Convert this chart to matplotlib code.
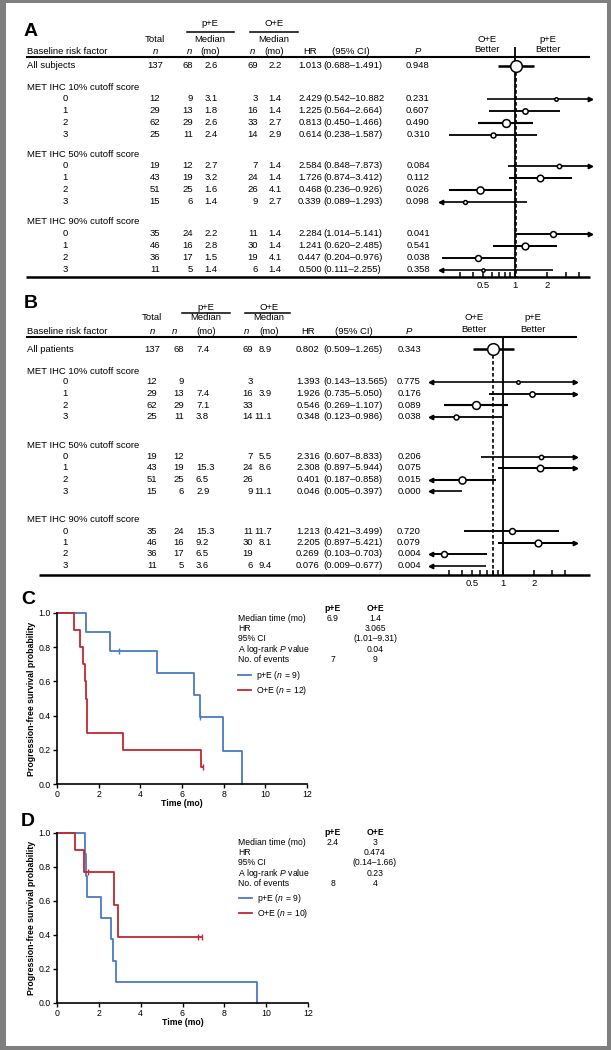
import matplotlib
matplotlib.use('Agg')
import numpy as np
import matplotlib.pyplot as plt
from matplotlib.patches import Rectangle
from matplotlib.ticker import FixedLocator, FixedFormatter, NullFormatter

plt.rcParams['font.family'] = ['Liberation Sans', 'DejaVu Sans']
plt.rcParams['mathtext.fontset'] = 'custom'
plt.rcParams['mathtext.rm'] = 'Liberation Sans'
plt.rcParams['mathtext.it'] = 'Liberation Sans:italic'
plt.rcParams['mathtext.bf'] = 'Liberation Sans:bold'

W, H = 611, 1050

# ---------------- data ----------------
groups = ['MET IHC 10% cutoff score', 'MET IHC 50% cutoff score', 'MET IHC 90% cutoff score']
scores = ['0', '1', '2', '3']
total_n = [12, 29, 62, 25, 19, 43, 51, 15, 35, 46, 36, 11]
pe_n = [9, 13, 29, 11, 12, 19, 25, 6, 24, 16, 17, 5]
oe_n = [3, 16, 33, 14, 7, 24, 26, 9, 11, 30, 19, 6]

# panel A (progression-free survival)
a_all = ['All subjects', 137, 68, '2.6', 69, '2.2', 1.013, 0.688, 1.491, '0.948']
a_pe_med = ['3.1', '1.8', '2.6', '2.4', '2.7', '3.2', '1.6', '1.4', '2.2', '2.8', '1.5', '1.4']
a_oe_med = ['1.4', '1.4', '2.7', '2.9', '1.4', '1.4', '4.1', '2.7', '1.4', '1.4', '4.1', '1.4']
a_hr = [2.429, 1.225, 0.813, 0.614, 2.584, 1.726, 0.468, 0.339, 2.284, 1.241, 0.447, 0.500]
a_lo = [0.542, 0.564, 0.450, 0.238, 0.848, 0.874, 0.236, 0.089, 1.014, 0.620, 0.204, 0.111]
a_hi = [10.882, 2.664, 1.466, 1.587, 7.873, 3.412, 0.926, 1.293, 5.141, 2.485, 0.976, 2.255]
a_p = ['0.231', '0.607', '0.490', '0.310', '0.084', '0.112', '0.026', '0.098',
       '0.041', '0.541', '0.038', '0.358']

# panel B (overall survival)
b_all = ['All patients', 137, 68, '7.4', 69, '8.9', 0.802, 0.509, 1.265, '0.343']
b_pe_med = ['', '7.4', '7.1', '3.8', '', '15.3', '6.5', '2.9', '15.3', '9.2', '6.5', '3.6']
b_oe_med = ['', '3.9', '', '11.1', '5.5', '8.6', '', '11.1', '11.7', '8.1', '', '9.4']
b_hr = [1.393, 1.926, 0.546, 0.348, 2.316, 2.308, 0.401, 0.046, 1.213, 2.205, 0.269, 0.076]
b_lo = [0.143, 0.735, 0.269, 0.123, 0.607, 0.897, 0.187, 0.005, 0.421, 0.897, 0.103, 0.009]
b_hi = [13.565, 5.050, 1.107, 0.986, 8.833, 5.944, 0.858, 0.397, 3.499, 5.421, 0.703, 0.677]
b_p = ['0.775', '0.176', '0.089', '0.038', '0.206', '0.075', '0.015', '0.000',
       '0.720', '0.079', '0.004', '0.004']

# KM curves, panel C
c_pe_t = [0, 1.4, 2.55, 4.8, 6.57, 6.84, 7.95, 8.9]
c_pe_s = [1.0, 0.889, 0.778, 0.648, 0.519, 0.389, 0.195, 0.0]
c_pe_end = 8.9
c_pe_cens_t = [2.97, 6.84]
c_pe_cens_s = [0.778, 0.389]
c_oe_t = [0, 0.8, 1.1, 1.27, 1.32, 1.37, 1.42, 3.17, 6.92]
c_oe_s = [1.0, 0.9, 0.8, 0.7, 0.6, 0.5, 0.3, 0.2, 0.1]
c_oe_end = 7.0
c_oe_cens_t = [7.0]
c_oe_cens_s = [0.1]
c_pe_vals = ['6.9', '', '', '', '7']
c_oe_vals = ['1.4', '3.065', '(1.01–9.31)', '0.04', '9']
c_legend = ['p+E ($\\it{n}$ = 9)', 'O+E ($\\it{n}$ = 12)']

# KM curves, panel D
d_pe_t = [0, 1.32, 1.37, 1.43, 2.11, 2.59, 2.70, 2.83, 9.54]
d_pe_s = [1.0, 0.875, 0.75, 0.625, 0.5, 0.375, 0.25, 0.125, 0.0]
d_pe_end = 9.54
d_pe_cens_t = []
d_pe_cens_s = []
d_oe_t = [0, 0.87, 1.27, 2.73, 2.94]
d_oe_s = [1.0, 0.9, 0.771, 0.578, 0.386]
d_oe_end = 6.92
d_oe_cens_t = [1.46, 6.76, 6.92]
d_oe_cens_s = [0.771, 0.386, 0.386]
d_pe_vals = ['2.4', '', '', '', '8']
d_oe_vals = ['3', '0.474', '(0.14–1.66)', '0.23', '4']
d_legend = ['p+E ($\\it{n}$ = 9)', 'O+E ($\\it{n}$ = 10)']

km_labels = ['Median time (mo)', 'HR', '95% CI', 'A log-rank $\\it{P}$ value', 'No. of events']

BLUE = '#4a7bc4'
RED = '#c3262f'
FS = 6.8

# ---------------- figure ----------------
fig = plt.figure(figsize=(W / 100, H / 100), dpi=100)
fig.patch.set_facecolor('#7f7f7f')
ax0 = fig.add_axes([0, 0, 1, 1])
ax0.set_xlim(0, W)
ax0.set_ylim(H, 0)
ax0.axis('off')
ax0.add_patch(Rectangle((6, 3), 601, 1043, facecolor='white', edgecolor='none'))


def px_axes(x0, x1, y0, y1):
    return fig.add_axes([x0 / W, 1 - y1 / H, (x1 - x0) / W, (y1 - y0) / H])


def row_layout(y_all, gap_first, gap_head, step, gap_group):
    heads, rows = [], []
    y = y_all + gap_first
    for g in range(len(groups)):
        heads.append(y)
        y += gap_head
        for i in range(len(scores)):
            rows.append(y)
            y += step
        y += gap_group - step
    return heads, rows


def txt(x, y, s, ha='center', **kw):
    return ax0.text(x, y, s, ha=ha, va='center', fontsize=kw.pop('fontsize', FS), **kw)


def table(allrow, pe_med, oe_med, hr, lo, hi, pv, c, hy, y_all, heads, rows, lines):
    # header
    txt(c['pe_hdr'], hy[0], 'p+E')
    txt(c['oe_hdr'], hy[0], 'O+E')
    ax0.plot(c['pe_line'], [hy[1]] * 2, color='k', lw=1.1)
    ax0.plot(c['oe_line'], [hy[1]] * 2, color='k', lw=1.1)
    txt(c['total'][0], hy[2], 'Total')
    txt(c['pe_hdr'], hy[2], 'Median')
    txt(c['oe_hdr'], hy[2], 'Median')
    txt(c['label'], hy[3], 'Baseline risk factor', ha='left')
    txt(c['total'][0], hy[3], 'n', style='italic')
    txt(c['n_hdr'][0], hy[3], 'n', style='italic')
    txt(c['pe_hdr'], hy[3], '(mo)')
    txt(c['n_hdr'][1], hy[3], 'n', style='italic')
    txt(c['oe_hdr'], hy[3], '(mo)')
    txt(c['hr'][0], hy[3], 'HR')
    txt(c['ci_hdr'], hy[3], '(95% CI)')
    txt(c['p'][0], hy[3], 'P', style='italic')
    txt(c['better'][0], hy[2] - 1, 'O+E')
    txt(c['better'][0], hy[3] - 1, 'Better')
    txt(c['better'][1], hy[2] - 1, 'p+E')
    txt(c['better'][1], hy[3] - 1, 'Better')
    ax0.plot(lines[0], [lines[1]] * 2, color='k', lw=1.5, solid_capstyle='butt')
    ax0.plot(lines[2], [lines[3]] * 2, color='k', lw=1.8, solid_capstyle='butt')

    def one_row(y, vals):
        out = []
        for key, v in zip(['total', 'pe_n', 'pe_med', 'oe_n', 'oe_med', 'hr', 'ci', 'p'], vals):
            out.append(txt(c[key][0], y, v, ha=c[key][1]))
        return out

    lab, tot, pn, pm, on, om, h, l, u, p = allrow
    txt(c['label'], y_all, lab, ha='left')
    one_row(y_all, [str(tot), str(pn), pm, str(on), om, f'{h:.3f}', f'({l:.3f}–{u:.3f})', p])
    for g, gy in enumerate(heads):
        txt(c['label'], gy, groups[g], ha='left')
    ci_artists = []
    for i, y in enumerate(rows):
        txt(c['score'], y, scores[i % 4])
        arts = one_row(y, [str(total_n[i]), str(pe_n[i]), pe_med[i], str(oe_n[i]), oe_med[i],
                           f'{hr[i]:.3f}', f'({lo[i]:.3f}–{hi[i]:.3f})', pv[i]])
        ci_artists.append(arts[6])
    return ci_artists


def forest(ax, hr, lo, hi, ns, ys, all_hr, vline, dline, xmin=0.2, xmax=5.0):
    ax.set_xscale('log')
    ax.set_xlim(xmin, xmax)
    for h, l, u, n, y in zip(hr, lo, hi, ns, ys):
        lw = 0.9 + 0.08 * np.sqrt(n)
        ax.plot([max(l, xmin), min(u, xmax)], [y, y], color='k', lw=lw,
                solid_capstyle='butt', clip_on=False)
        if l < xmin:
            ax.plot(xmin, y, marker='<', ms=3.2, color='k', clip_on=False)
        if u > xmax:
            ax.plot(xmax, y, marker='>', ms=3.2, color='k', clip_on=False)
        if xmin <= h <= xmax:
            ax.plot(h, y, 'o', ms=8.4 * np.sqrt(n / 137), mfc='white', mec='k',
                    mew=1.1, zorder=4, clip_on=False)
    ax.vlines(1, vline[0], vline[1], color='k', lw=1.3, zorder=2)
    ax.vlines(all_hr, dline[0], dline[1], color='k', lw=1.2,
              linestyles=(0, (2.2, 1.4)), zorder=2)
    for s in ax.spines.values():
        s.set_visible(False)
    ax.patch.set_alpha(0)
    ax.xaxis.set_major_locator(FixedLocator([0.5, 1, 2]))
    ax.xaxis.set_major_formatter(FixedFormatter(['0.5', '1', '2']))
    ax.xaxis.set_minor_locator(FixedLocator([0.3, 0.4, 0.6, 0.7, 0.8, 0.9, 3, 4]))
    ax.xaxis.set_minor_formatter(NullFormatter())
    ax.tick_params(which='both', axis='x', direction='in', length=3.6, width=1.1,
                   labelsize=FS, pad=3)
    ax.tick_params(axis='y', left=False, labelleft=False)


# ---------------- panel A ----------------
colA = dict(label=27, score=65, total=(155, 'center'), pe_n=(193, 'right'),
            pe_med=(211, 'center'), oe_n=(258, 'right'), oe_med=(275, 'center'),
            hr=(310, 'center'), ci=(323, 'left'), p=(418, 'center'),
            pe_hdr=210, oe_hdr=274, pe_line=[187, 234], oe_line=[250, 298],
            n_hdr=(189, 252), ci_hdr=351, better=(487, 548))
headsA, rowsA = row_layout(66, 21, 11.5, 12, 20)
txt(31, 32, 'A', fontsize=14, fontweight='bold')
ciA = table(a_all, a_pe_med, a_oe_med, a_hr, a_lo, a_hi, a_p, colA,
            [24, 32, 40, 51], 66, headsA, rowsA, ([26, 590], 56.5, [26, 590], 277))
# the closing parenthesis of the first CI is cut off in the source figure
ciA[0].set_text(ciA[0].get_text()[:-1])
axA = px_axes(441, 589.5, 40, 277)
axA.set_ylim(277, 40)
forest(axA, [a_all[6]] + a_hr, [a_all[7]] + a_lo, [a_all[8]] + a_hi,
       [a_all[1]] + total_n, [66] + rowsA, a_all[6], (47, 277), (60, 277))

# ---------------- panel B ----------------
colB = dict(label=27, score=65, total=(152, 'center'), pe_n=(184, 'right'),
            pe_med=(196, 'left'), oe_n=(253, 'right'), oe_med=(272, 'right'),
            hr=(308, 'center'), ci=(323, 'left'), p=(409, 'center'),
            pe_hdr=206, oe_hdr=269, pe_line=[182, 230], oe_line=[245, 290],
            n_hdr=(174, 246), ci_hdr=354, better=(474, 533))
headsB, rowsB = row_layout(349, 22, 11, 11.5, 29)
txt(31, 303, 'B', fontsize=14, fontweight='bold')
table(b_all, b_pe_med, b_oe_med, b_hr, b_lo, b_hi, b_p, colB,
      [307, 313, 318, 331], 349, headsB, rowsB, ([26, 577], 337, [39, 590], 575))
axB = px_axes(431, 575, 320, 575)
axB.set_ylim(575, 320)
forest(axB, [b_all[6]] + b_hr, [b_all[7]] + b_lo, [b_all[8]] + b_hi,
       [b_all[1]] + total_n, [349] + rowsB, b_all[6], (337, 575), (343, 575))


# ---------------- KM panels ----------------
def km_panel(box, letter_pos, letter, curves, pe_vals, oe_vals, info_y, leg_anchor):
    ax = px_axes(*box)
    ax.patch.set_alpha(0)
    for t, s, t_end, ct, cs, col, lab in curves:
        tt = list(t) + [t_end]
        ss = list(s) + [s[-1]]
        ax.step(tt, ss, where='post', color=col, lw=1.3, clip_on=False, label=lab)
        ax.plot(ct, cs, ls='none', marker='|', ms=4, mew=1.0, color=col, clip_on=False)
    ax.set_xlim(0, 12)
    ax.set_ylim(0, 1)
    ax.set_xticks(np.arange(0, 13, 2))
    ax.set_yticks(np.arange(0, 1.01, 0.2))
    ax.set_yticklabels([f'{v:.1f}' for v in np.arange(0, 1.01, 0.2)])
    ax.spines['top'].set_visible(False)
    ax.spines['right'].set_visible(False)
    ax.spines['left'].set_linewidth(1.2)
    ax.spines['bottom'].set_linewidth(1.2)
    ax.tick_params(direction='out', length=3, width=1.0, labelsize=6.3, pad=1.5)
    ax.set_xlabel('Time (mo)', fontsize=6.3, fontweight='bold', labelpad=0)
    ax.set_ylabel('Progression-free survival probability', fontsize=6.3,
                  fontweight='bold', labelpad=2)
    ax.legend(loc='upper left', bbox_to_anchor=leg_anchor, frameon=False, fontsize=6.2,
              handlelength=1.5, handletextpad=0.6, labelspacing=0.28,
              borderpad=0, borderaxespad=0)
    txt(letter_pos[0], letter_pos[1], letter, fontsize=14, fontweight='bold')
    y0, dy = info_y
    txt(box[0] + 276, y0 - dy, 'p+E', fontsize=6.2, fontweight='bold')
    txt(box[0] + 318, y0 - dy, 'O+E', fontsize=6.2, fontweight='bold')
    for i, lab in enumerate(km_labels):
        y = y0 + i * dy
        txt(238, y, lab, ha='left', fontsize=6.2)
        txt(box[0] + 276, y, pe_vals[i], fontsize=6.2)
        txt(box[0] + 318, y, oe_vals[i], fontsize=6.2)


km_panel((57, 307, 613, 784), (28, 600), 'C',
         [(c_pe_t, c_pe_s, c_pe_end, c_pe_cens_t, c_pe_cens_s, BLUE, c_legend[0]),
          (c_oe_t, c_oe_s, c_oe_end, c_oe_cens_t, c_oe_cens_s, RED, c_legend[1])],
         c_pe_vals, c_oe_vals, (618.5, 10.2), (0.724, 0.675))
km_panel((57, 308, 833, 1003), (28, 821), 'D',
         [(d_pe_t, d_pe_s, d_pe_end, d_pe_cens_t, d_pe_cens_s, BLUE, d_legend[0]),
          (d_oe_t, d_oe_s, d_oe_end, d_oe_cens_t, d_oe_cens_s, RED, d_legend[1])],
         d_pe_vals, d_oe_vals, (842.5, 10.2), (0.724, 0.655))

fig.savefig('out.png', dpi=100, facecolor=fig.get_facecolor())
